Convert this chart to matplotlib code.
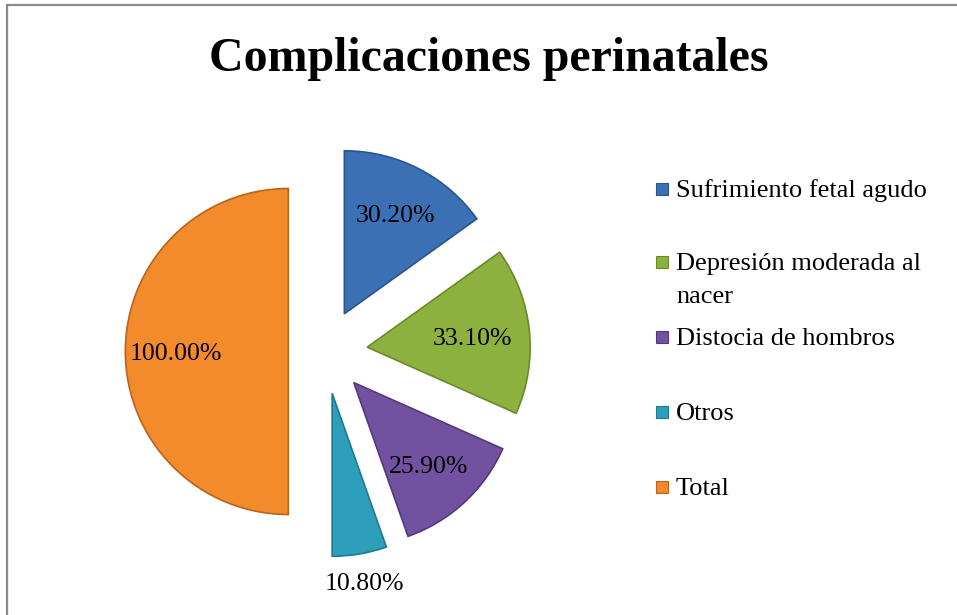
import matplotlib.pyplot as plt
import matplotlib.patches as mpatches
import numpy as np

plt.rcParams['font.family'] = ['Liberation Serif', 'DejaVu Serif']

# Data
categories = ["Sufrimiento fetal agudo", "Depresión moderada al nacer",
              "Distocia de hombros", "Otros", "Total"]
legend_lines = [["Sufrimiento fetal agudo"], ["Depresión moderada al", "nacer"],
                ["Distocia de hombros"], ["Otros"], ["Total"]]
values = [30.2, 33.1, 25.9, 10.8, 100.0]
value_labels = ["30.20%", "33.10%", "25.90%", "10.80%", "100.00%"]

colors = ["#3b70b5", "#8cb13e", "#7252a0", "#2e9fba", "#f38a2b"]
edges = ["#2a548c", "#6a8a2a", "#54387c", "#1f7a90", "#b8641a"]
explode = [0.26, 0.26, 0.26, 0.26, 0.225]
label_dist = [0.69, 0.65, 0.68, 1.17, 0.69]

W, H = 957, 615
fig = plt.figure(figsize=(W / 100, H / 100), dpi=100)

# pie centre and radius in pixels
cx, cy, R = 325, 351.5, 163
ax = fig.add_axes([0, 0, 1, 1])

wedges, _ = ax.pie(values, colors=colors, explode=explode, startangle=90,
                   counterclock=False, radius=1,
                   wedgeprops=dict(linewidth=1.2))
for w, ec in zip(wedges, edges):
    w.set_edgecolor(ec)
ax.set_aspect('auto')
ax.set_xlim(-cx / R, (W - cx) / R)
ax.set_ylim(-(H - cy) / R, cy / R)
ax.axis('off')

for w, lab, d in zip(wedges, value_labels, label_dist):
    mid = np.deg2rad((w.theta1 + w.theta2) / 2)
    x0, y0 = w.center
    ax.text(x0 + d * w.r * np.cos(mid), y0 + d * w.r * np.sin(mid), lab,
            ha='center', va='center_baseline', fontsize=18.5, color='black')

# title
fig.text(489 / W, 1 - 71 / H, "Complicaciones perinatales", ha='center',
         va='baseline', fontsize=34.5, fontweight='bold')

# legend
row_y = [189, 262, 337, 412, 487]
for lines, col, ec, y in zip(legend_lines, colors, edges, row_y):
    fig.patches.append(mpatches.Rectangle((656 / W, 1 - (y + 6) / H), 12 / W, 12 / H,
                                          transform=fig.transFigure, facecolor=col,
                                          edgecolor=ec, linewidth=0.8))
    for k, line in enumerate(lines):
        fig.text(676 / W, 1 - (y + 8 + 33 * k) / H, line, ha='left',
                 va='baseline', fontsize=19)

# chart border
fig.patches.append(mpatches.Rectangle((7 / W, -0.05), 1.1, 1 - 5 / H + 0.05,
                                      transform=fig.transFigure, fill=False,
                                      edgecolor='#8a8a8a', linewidth=1.6))

fig.savefig("out.png", dpi=100)
